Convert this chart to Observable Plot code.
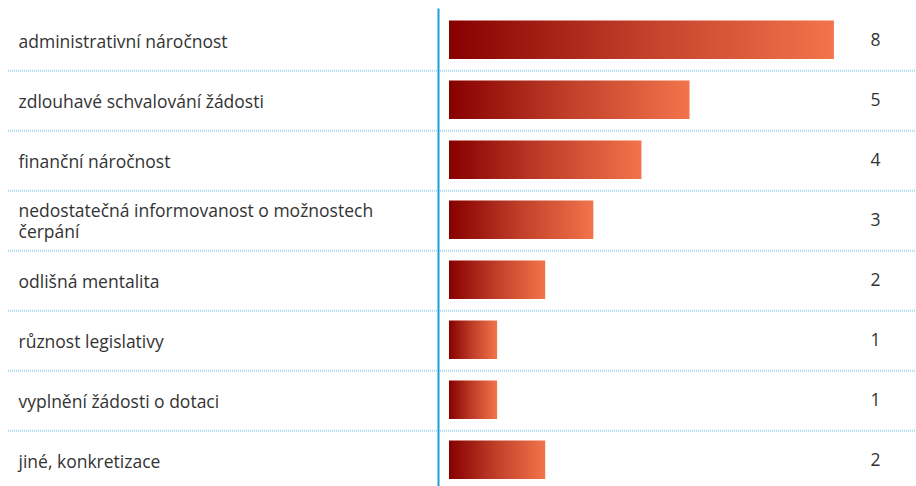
<!DOCTYPE html>
<html>
<head>
<meta charset="utf-8">
<script src="https://cdn.jsdelivr.net/npm/d3@7"></script>
<script src="https://cdn.jsdelivr.net/npm/@observablehq/plot@0.6"></script>
<style>
  html, body { margin: 0; padding: 0; background: #fff; overflow: hidden; }
  svg { display: block; }
</style>
</head>
<body>
<div id="chart"></div>
<script>
const categories = [
  "administrativní náročnost",
  "zdlouhavé schvalování žádosti",
  "finanční náročnost",
  "nedostatečná informovanost o možnostech čerpání",
  "odlišná mentalita",
  "různost legislativy",
  "vyplnění žádosti o dotaci",
  "jiné, konkretizace"
];
const values = [8, 5, 4, 3, 2, 1, 1, 2];

const data = categories.map((c, i) => ({ category: c, value: values[i] }));

const W = 916, H = 486;
const marginLeft = 449, marginRight = 34, marginTop = 8.6, marginBottom = -5.8;
const rowH = (H - marginTop - marginBottom) / categories.length;
const font = "'Open Sans', 'Noto Sans', sans-serif";

const chart = Plot.plot({
  width: W,
  height: H,
  marginLeft, marginRight, marginTop, marginBottom,
  style: { fontFamily: font, fontSize: "17.5px", color: "#333", background: "#fff" },
  x: { domain: [0, 9], axis: null },
  y: { domain: categories, padding: 0, axis: null },
  marks: [
    () => {
      const svg = d3.create("svg:defs");
      const g = svg.append("linearGradient").attr("id", "barGrad").attr("x1", "0").attr("x2", "1").attr("y1", "0").attr("y2", "0");
      g.append("stop").attr("offset", "0%").attr("stop-color", "#870000");
      g.append("stop").attr("offset", "50%").attr("stop-color", "#c0402a");
      g.append("stop").attr("offset", "100%").attr("stop-color", "#f2744b");
      return svg.node();
    },
    Plot.ruleY(categories, {
      y: d => d, dy: rowH / 2,
      stroke: "#a6daf1", strokeWidth: 2, strokeDasharray: "1,1",
      insetLeft: -(marginLeft - 8), insetRight: -marginRight
    }),
    Plot.ruleX([0], { dx: -11, stroke: "#1aa0da", strokeWidth: 2 }),
    Plot.barX(data, {
      x: "value", y: "category",
      fill: "url(#barGrad)",
      insetTop: 10.5, insetBottom: 11
    }),
    Plot.text(data, {
      x: 0, y: "category", text: "category",
      dx: -(marginLeft - 18), textAnchor: "start",
      lineWidth: 23, lineHeight: 1.25,
      fill: "#333", fontSize: 17.5
    }),
    Plot.text(data, {
      x: 9, y: "category", text: d => String(d.value),
      dx: -7, textAnchor: "middle",
      fill: "#333", fontSize: 17.5
    })
  ]
});

document.getElementById("chart").appendChild(chart);
</script>
</body>
</html>
